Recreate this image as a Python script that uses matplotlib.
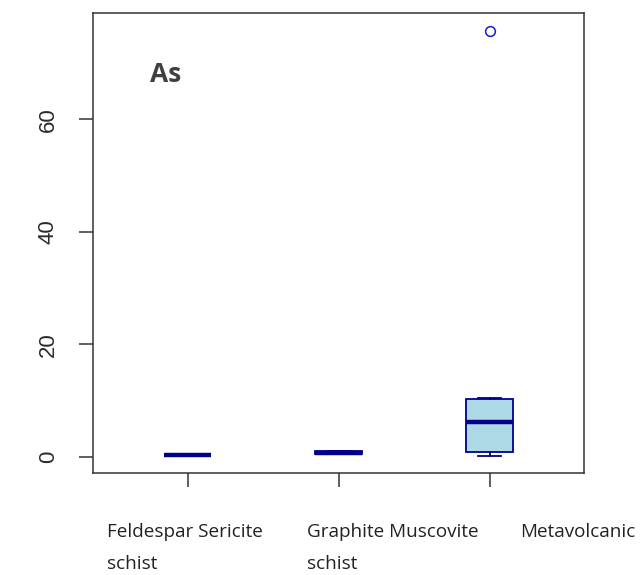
"""As 箱线图（三种岩性）。"""

import matplotlib.pyplot as plt

plt.rcParams["font.family"] = ["Liberation Sans", "DejaVu Sans"]

# 各岩性的箱线统计量
ROCKS = ["Feldespar Sericite\nschist", "Graphite Muscovite\nschist", "Metavolcanic"]
WHISLO = [0.25, 0.5, 0.18]
Q1 = [0.25, 0.5, 0.9]
MED = [0.3, 0.72, 6.1]
Q3 = [0.35, 0.95, 10.3]
WHISHI = [0.35, 0.95, 10.5]
FLIERS = [[], [], [75.8]]

Y_TICKS = [0, 20, 40, 60]
ELEMENT = "As"


def draw() -> None:
    fig = plt.figure(figsize=(6.44, 5.75), dpi=100)
    ax = fig.add_axes([0.145, 0.1774, 0.762, 0.8005])

    stats = []
    for i in range(len(ROCKS)):
        stats.append(dict(whislo=WHISLO[i], q1=Q1[i], med=MED[i], q3=Q3[i],
                          whishi=WHISHI[i], fliers=FLIERS[i]))

    ax.bxp(stats, positions=[1, 2, 3], widths=0.31, patch_artist=True,
           boxprops=dict(facecolor="#ADD8E6", edgecolor="#00008B", linewidth=1.3),
           medianprops=dict(color="#00008B", linewidth=3.2, solid_capstyle="butt"),
           whiskerprops=dict(color="#00008B", linewidth=1.3),
           capprops=dict(color="#00008B", linewidth=1.3),
           flierprops=dict(marker="o", markerfacecolor="none",
                           markeredgecolor="#1a1acd", markersize=7,
                           markeredgewidth=1.1))

    ax.set_xlim(0.375, 3.625)
    ax.set_ylim(-2.9, 79.0)
    ax.set_yticks(Y_TICKS)
    ax.set_yticklabels([str(t) for t in Y_TICKS], rotation=90, va="center",
                       fontsize=16, color="#2a2a2a")
    ax.set_xticks([1, 2, 3])
    ax.set_xticklabels([])
    ax.tick_params(axis="both", length=10, width=1.1, color="#333333")
    ax.tick_params(axis="y", pad=15)
    for sp in ax.spines.values():
        sp.set_color("#333333")
        sp.set_linewidth(1.1)

    # 元素名称
    fig.text(166 / 644, 1 - 74 / 575, ELEMENT, ha="center", va="center",
             fontsize=19, fontweight="bold", color="#404040",
             family=["Open Sans", "DejaVu Sans"])

    # 岩性标签（左对齐，逐行手动放置）
    label_x = [107, 307, 520]
    line_y = [537, 569]
    for x, name in zip(label_x, ROCKS):
        for j, line in enumerate(name.split("\n")):
            fig.text(x / 644, 1 - line_y[j] / 575, line, ha="left",
                     va="baseline", fontsize=13.6, color="#222222",
                     family=["Open Sans", "DejaVu Sans"])

    fig.savefig("out.png", dpi=100)


if __name__ == "__main__":
    draw()
